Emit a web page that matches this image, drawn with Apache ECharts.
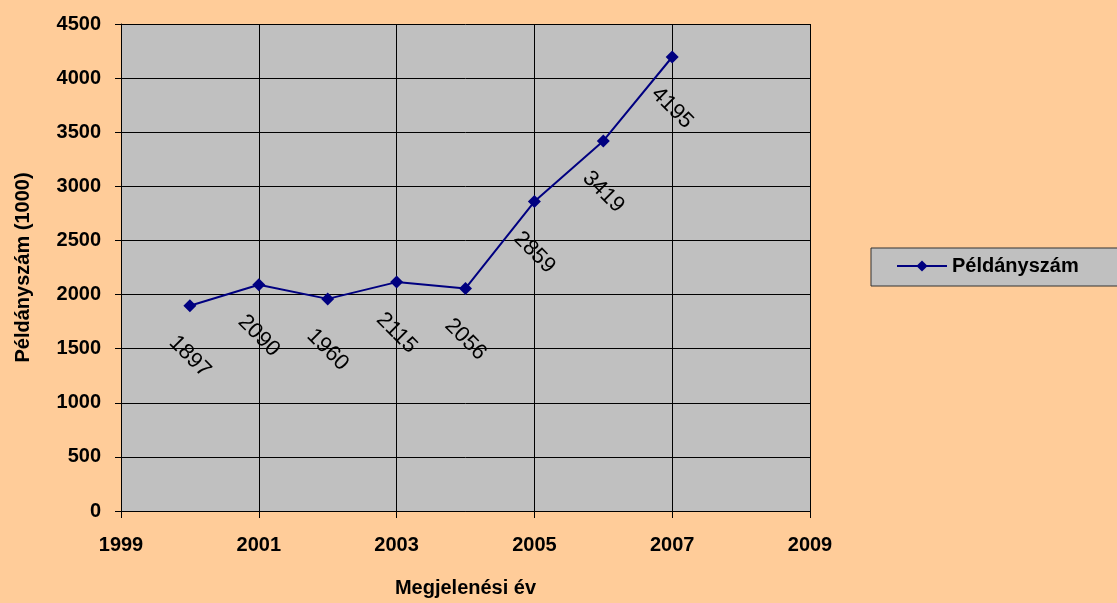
<!DOCTYPE html>
<html>
<head>
<meta charset="utf-8">
<script src="https://cdn.jsdelivr.net/npm/echarts@6/dist/echarts.min.js"></script>
<style>
  html, body { margin: 0; padding: 0; background: #FFCC99; }
  #chart { width: 1117px; height: 603px; }
</style>
</head>
<body>
<div id="chart"></div>
<script>
// évek és példányszámok (ezer)
const years = [2000, 2001, 2002, 2003, 2004, 2005, 2006, 2007]
const copies = [1897, 2090, 1960, 2115, 2056, 2859, 3419, 4195]
const seriesName = 'Példányszám (1000)'

const font = 'Arial, "Liberation Sans", sans-serif'
const chart = echarts.init(document.getElementById('chart'))

const option = {
  backgroundColor: '#FFCC99',
  animation: false,
  grid: { left: 121, right: 307, top: 24, bottom: 91, show: true, backgroundColor: '#C0C0C0', borderWidth: 0 },
  legend: {
    left: 871,
    top: 248,
    orient: 'vertical',
    backgroundColor: '#C0C0C0',
    borderColor: '#333',
    borderWidth: 1,
    borderRadius: 0,
    padding: [8, 60, 10, 25],
    itemWidth: 50,
    itemHeight: 14,
    itemGap: 0,
    formatter: () => 'Példányszám',
    textStyle: { fontFamily: font, fontSize: 20, fontWeight: 'bold', color: '#000' },
    data: [seriesName]
  },
  xAxis: {
    type: 'value',
    min: 1999,
    max: 2009,
    interval: 2,
    name: 'Megjelenési év',
    nameLocation: 'middle',
    nameGap: 67,
    nameTextStyle: { fontFamily: font, fontSize: 20, fontWeight: 'bold', color: '#000' },
    axisLine: { lineStyle: { color: '#000', width: 1 } },
    axisTick: { show: true, length: 7, lineStyle: { color: '#000' } },
    axisLabel: { fontFamily: font, fontSize: 20, fontWeight: 'bold', color: '#000', margin: 24, formatter: v => String(v) },
    splitLine: { show: true, lineStyle: { color: '#000', width: 1 } }
  },
  yAxis: {
    type: 'value',
    min: 0,
    max: 4500,
    interval: 500,
    name: 'Példányszám (1000)',
    nameLocation: 'middle',
    nameGap: 88,
    nameTextStyle: { fontFamily: font, fontSize: 20, fontWeight: 'bold', color: '#000' },
    axisLine: { show: true, lineStyle: { color: '#000', width: 1 } },
    axisTick: { show: true, length: 6, lineStyle: { color: '#000' } },
    axisLabel: { fontFamily: font, fontSize: 20, fontWeight: 'bold', color: '#000', margin: 20, formatter: v => String(v) },
    splitLine: { show: true, lineStyle: { color: '#000', width: 1 } }
  },
  series: [{
    name: seriesName,
    type: 'line',
    data: years.map((y, i) => [y, copies[i]]),
    symbol: 'diamond',
    symbolSize: 13,
    lineStyle: { color: '#000080', width: 2 },
    itemStyle: { color: '#000080' },
    label: {
      show: true,
      position: 'inside',
      offset: [36, 36],
      rotate: -45,
      align: 'center',
      verticalAlign: 'middle',
      formatter: p => p.value[1],
      fontFamily: font,
      fontSize: 22,
      color: '#000'
    }
  }]
}

chart.setOption(option)
</script>
</body>
</html>
